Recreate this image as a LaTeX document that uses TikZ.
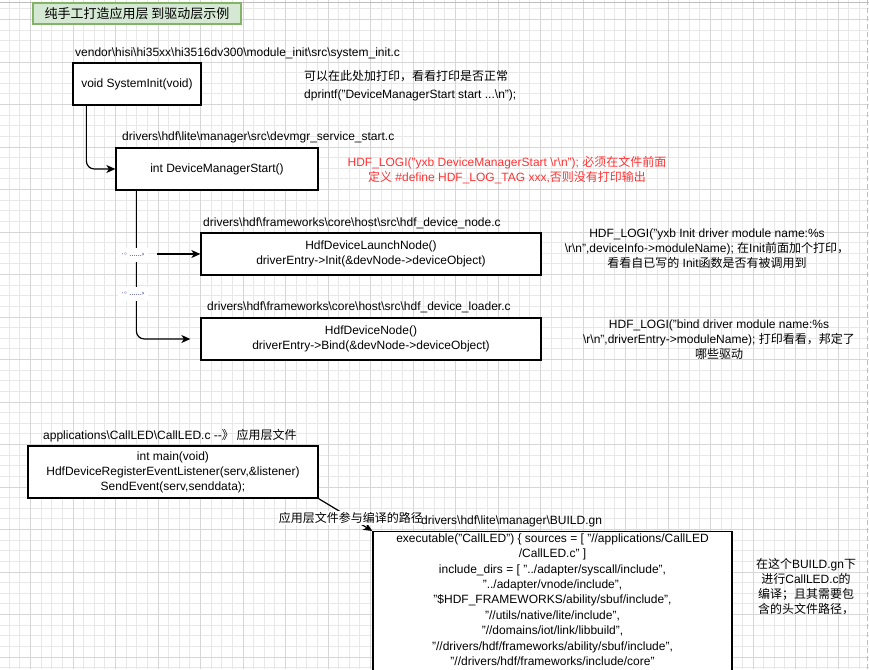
\documentclass[tikz,border=0pt]{standalone}
\usepackage{fontspec}
\setmainfont{Liberation Sans}
\newfontfamily\cjk{Noto Sans CJK SC}
\newfontfamily\dejavu{DejaVu Sans}
\usetikzlibrary{arrows.meta}

\definecolor{gridminor}{RGB}{232,232,232}
\definecolor{gridmajor}{RGB}{214,214,214}
\definecolor{titlefill}{RGB}{213,232,212}
\definecolor{titleline}{RGB}{130,179,102}
\definecolor{logred}{RGB}{255,51,51}
\definecolor{pageline}{RGB}{190,190,190}
\newcommand{\bsl}{\textbackslash}

\begin{document}
\begin{tikzpicture}[
    x=1pt, y=-1pt,
    every node/.style={font=\fontsize{12}{15}\selectfont, inner sep=0pt, align=center},
    codebox/.style={draw=black, line width=1.3pt, fill=white, inner sep=2pt},
    titlebox/.style={draw=titleline, line width=1.2pt, fill=titlefill},
    filelabel/.style={anchor=west},
    note/.style={text=black},
    lognote/.style={text=logred},
    dotlabel/.style={fill=white, text=blue!45!black, minimum width=30pt, minimum height=14pt,
        font=\dejavu\fontsize{6.5}{7}\selectfont},
    arrow/.style={-{Stealth[length=9pt,width=8pt,inset=2.5pt]}, line width=1.2pt},
    gridthin/.style={draw=gridminor, line width=1pt},
    gridthick/.style={draw=gridmajor, line width=1pt}
]
\useasboundingbox (0,0) rectangle (869,669);
\clip (0,0) rectangle (869,669);
\fill[white] (0,0) rectangle (869,669);

% background grid
\foreach \i in {-6,...,75} \draw[gridthin] ({73+10.625*\i},0) -- ({73+10.625*\i},669);
\foreach \i in {-5,...,57} \draw[gridthin] (0,{62+10.625*\i}) -- (869,{62+10.625*\i});
\foreach \i in {-1,...,18} \draw[gridthick] ({73+42.5*\i},0) -- ({73+42.5*\i},669);
\foreach \i in {-1,...,14} \draw[gridthick] (0,{62+42.5*\i}) -- (869,{62+42.5*\i});
\draw[pageline, line width=1pt] (0,3) -- (869,3);
\draw[pageline, line width=1pt, dash pattern=on 5pt off 3pt] (867,0) -- (867,669);

\node[titlebox, minimum width=208pt, minimum height=21pt] (title) at (137,13.5)
    {\cjk\fontsize{13}{15}\selectfont 纯手工打造应用层 到驱动层示例};

% driver side
\node[codebox, minimum width=128pt, minimum height=42pt] (sysinit) at (137,84) {void SystemInit(void)};
\node[codebox, minimum width=202pt, minimum height=42pt] (devmgr) at (217,169) {int DeviceManagerStart()};
\node[codebox, minimum width=340pt, minimum height=42pt] (launch) at (371,254)
    {HdfDeviceLaunchNode()\\driverEntry->Init(\&devNode->deviceObject)};
\node[codebox, minimum width=340pt, minimum height=42pt] (devnode) at (371,339)
    {HdfDeviceNode()\\driverEntry->Bind(\&devNode->deviceObject)};

\node[filelabel] (sysinitfile) at (75,53) {vendor\bsl hisi\bsl hi35xx\bsl hi3516dv300\bsl module\_init\bsl src\bsl system\_init.c};
\node[filelabel] (devmgrfile) at (122,137) {drivers\bsl hdf\bsl lite\bsl manager\bsl src\bsl devmgr\_service\_start.c};
\node[filelabel] (launchfile) at (203,223) {drivers\bsl hdf\bsl frameworks\bsl core\bsl host\bsl src\bsl hdf\_device\_node.c};
\node[filelabel] (devnodefile) at (207,307.7) {drivers\bsl hdf\bsl frameworks\bsl core\bsl host\bsl src\bsl hdf\_device\_loader.c};

\node[note, anchor=west, align=left] (sysinitnote) at (304,85.5)
    {{\cjk 可以在此处加打印，看看打印是否正常}\\[3pt]dprintf("DeviceManagerStart start ...\bsl n");};
\node[lognote] (devmgrnote) at (507,170.5)
    {HDF\_LOGI("yxb DeviceManagerStart \bsl r\bsl n"); {\cjk 必须在文件前面}\\{\cjk 定义} \#define HDF\_LOG\_TAG xxx,{\cjk 否则没有打印输出}};
\node[note] (launchnote) at (707,249)
    {HDF\_LOGI("yxb Init driver module name:\%s\\\bsl r\bsl n",deviceInfo->moduleName); {\cjk 在}Init{\cjk 前面加个打印，}\\{\cjk 看看自已写的} Init{\cjk 函数是否有被调用到}};
\node[note] (devnodenote) at (719,339.5)
    {HDF\_LOGI("bind driver module name:\%s\\\bsl r\bsl n",driverEntry->moduleName); {\cjk 打印看看，邦定了}\\{\cjk 哪些驱动}};

\draw[arrow, rounded corners=8pt] ([xshift=14pt]sysinit.south west) |- (devmgr.west);
\draw[arrow, rounded corners=8pt, shorten >=10pt] ([xshift=21pt]devmgr.south west) |- (devnode.west);
\node[dotlabel] (gapa) at (133,255) {·◦ ......›};
\node[dotlabel] (gapb) at (133,294) {·◦ ......›};
\coordinate (launchfrom) at (157,254);
\draw[arrow] (launchfrom) -- (launch.west);

% application side
\node[codebox, minimum width=290pt, minimum height=52pt] (mainbox) at (173,472)
    {int main(void)\\HdfDeviceRegisterEventListener(serv,\&listener)\\SendEvent(serv,senddata);};
\node[filelabel] (mainfile) at (43,436) {applications\bsl CallLED\bsl CallLED.c -{}-{\cjk 》 应用层文件}};

\node[codebox, minimum width=359pt, anchor=north, inner ysep=2pt, text depth=25pt,
      font=\fontsize{12}{15.4}\selectfont] (build) at (552.5,531)
    {executable("CallLED") \{ sources = [ "//applications/CallLED\\/CallLED.c" ]\\
     include\_dirs = [ "../adapter/syscall/include",\\"../adapter/vnode/include",\\
     "\$HDF\_FRAMEWORKS/ability/sbuf/include",\\"//utils/native/lite/include",\\
     "//domains/iot/link/libbuild",\\"//drivers/hdf/frameworks/ability/sbuf/include",\\
     "//drivers/hdf/frameworks/include/core"};

\draw[arrow] (mainbox.south east) -- node[pos=0.6, fill=white, inner sep=1pt] (buildpath)
    {\cjk 应用层文件参与编译的路径} (build.north west);
\node[filelabel] (buildfile) at (421,521.7) {drivers\bsl hdf\bsl lite\bsl manager\bsl BUILD.gn};

\node[note] (buildnote) at (806,587)
    {{\cjk 在这个}BUILD.gn{\cjk 下}\\{\cjk 进行}CallLED.c{\cjk 的}\\{\cjk 编译；且其需要包}\\{\cjk 含的头文件路径，}};

\end{tikzpicture}
\end{document}
